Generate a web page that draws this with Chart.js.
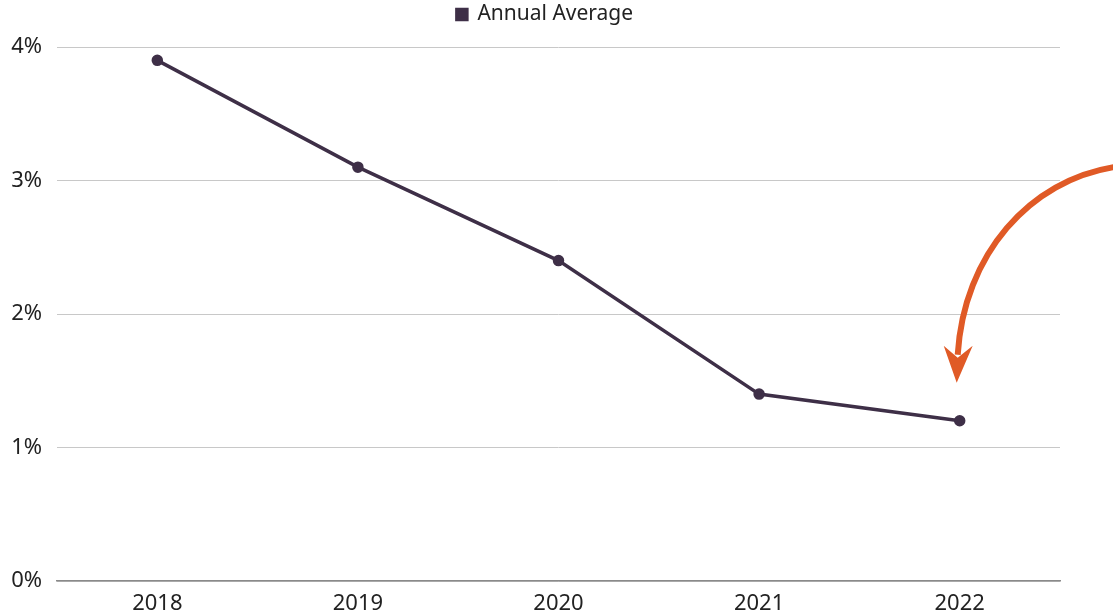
<!DOCTYPE html>
<html>
<head>
<meta charset="utf-8">
<script src="https://cdn.jsdelivr.net/npm/chart.js@4"></script>
<style>
  html, body { margin: 0; padding: 0; background: #fff; }
  #wrap { width: 1113px; height: 616px; }
</style>
</head>
<body>
<div id="wrap"><canvas id="chart"></canvas></div>
<script>
const years = ['2018', '2019', '2020', '2021', '2022']
const annualAverage = [3.9, 3.1, 2.4, 1.4, 1.2]
const yTicks = [0, 1, 2, 3, 4]

const lineColor = '#3e2f47'
const arrowColor = '#e05a26'

// curved callout arrow pointing at the last point
const arrowPlugin = {
  id: 'arrow',
  afterDraw(chart) {
    const ctx = chart.ctx
    const x = chart.scales.x.getPixelForValue(years.length - 1)
    const y = chart.scales.y.getPixelForValue(annualAverage[annualAverage.length - 1])
    ctx.save()
    ctx.strokeStyle = arrowColor
    ctx.fillStyle = arrowColor
    ctx.lineWidth = 6
    ctx.beginPath()
    ctx.moveTo(x + 156, y - 254)
    ctx.bezierCurveTo(x + 70, y - 241, x + 4, y - 166, x - 2, y - 66)
    ctx.stroke()
    ctx.beginPath()
    ctx.moveTo(x - 3, y - 38)
    ctx.lineTo(x - 16, y - 75)
    ctx.lineTo(x - 2, y - 63)
    ctx.lineTo(x + 13, y - 75)
    ctx.closePath()
    ctx.fill()
    ctx.restore()
  }
}

// extra room under the legend, and nudge it right a bit
const legendTweak = {
  id: 'legendTweak',
  beforeInit(chart) {
    const legend = chart.legend
    const fit = legend.fit
    const draw = legend.draw
    legend.fit = function () {
      fit.bind(this)()
      this.height += 12
    }
    legend.draw = function () {
      this.ctx.save()
      this.ctx.translate(15, 0)
      draw.bind(this)()
      this.ctx.restore()
    }
  }
}

Chart.defaults.font.family = '"Noto Sans", sans-serif'
Chart.defaults.color = '#222'

new Chart(document.getElementById('chart'), {
  type: 'line',
  data: {
    labels: years,
    datasets: [{
      label: 'Annual Average',
      data: annualAverage,
      borderColor: lineColor,
      backgroundColor: lineColor,
      borderWidth: 3.5,
      pointRadius: 4,
      pointHoverRadius: 4,
      tension: 0
    }]
  },
  options: {
    responsive: true,
    maintainAspectRatio: false,
    animation: false,
    layout: { padding: { left: 0, right: 53, top: 0, bottom: 0 } },
    plugins: {
      legend: {
        position: 'top',
        labels: { usePointStyle: true, pointStyle: 'rect', boxWidth: 10, boxHeight: 10, padding: 4, font: { size: 21 }, color: '#222' }
      },
      tooltip: { enabled: false }
    },
    scales: {
      x: {
        offset: true,
        grid: { display: false, drawTicks: false },
        border: { display: true, color: '#8a8a8a', width: 1.5 },
        afterFit: axis => { axis.height = 35 },
        ticks: { font: { size: 22 }, padding: 10 }
      },
      y: {
        min: 0,
        max: 4,
        afterBuildTicks: axis => { axis.ticks = yTicks.map(v => ({ value: v })) },
        afterFit: axis => { axis.width = 57 },
        grid: { color: '#c8c8c8', lineWidth: 1, drawTicks: false },
        border: { display: false },
        ticks: { font: { size: 22 }, padding: 15, callback: v => v + '%' }
      }
    }
  },
  plugins: [arrowPlugin, legendTweak]
})
</script>
</body>
</html>
